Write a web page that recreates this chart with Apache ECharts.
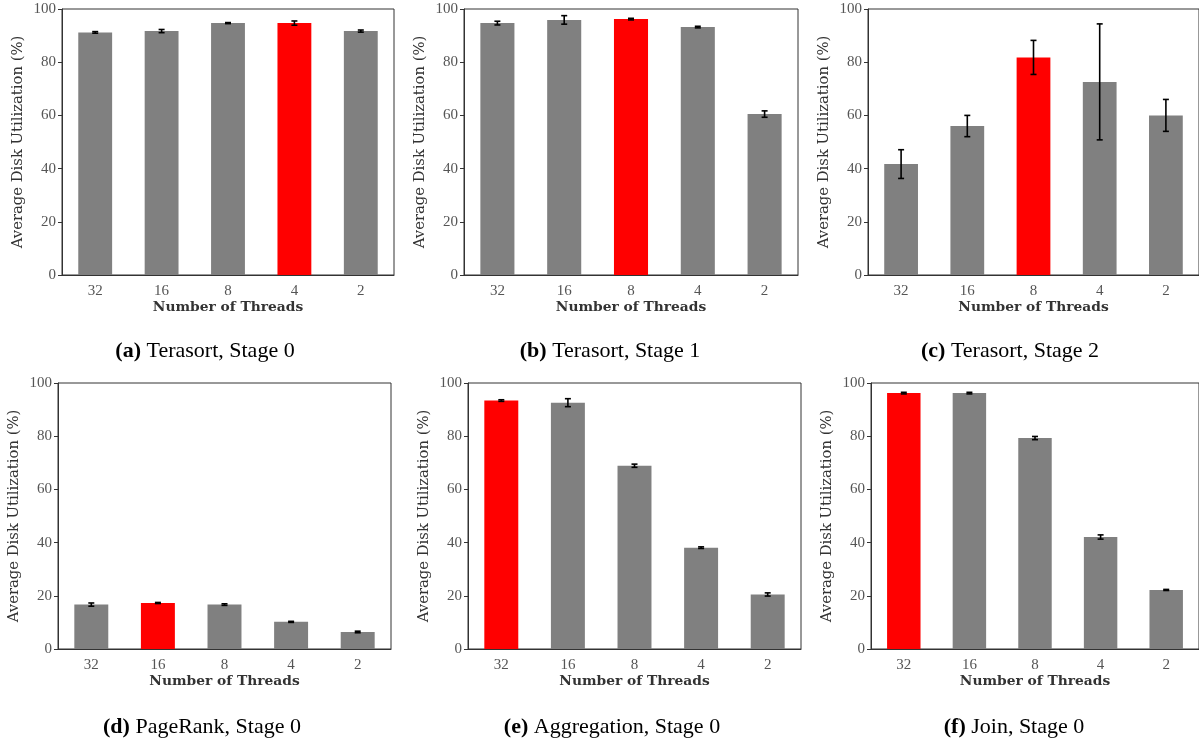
<!DOCTYPE html>
<html>
<head>
<meta charset="utf-8">
<script src="https://cdn.jsdelivr.net/npm/echarts@6/dist/echarts.min.js"></script>
<style>
html,body{margin:0;padding:0;background:#fff;}
#c{width:1199px;height:742px;}
</style>
</head>
<body>
<div id="c"></div>
<script>
// ---- data ----
const threads = ['32', '16', '8', '4', '2'];
const yTicks = [0, 20, 40, 60, 80, 100];

const terasort0 = [91.2, 91.7, 94.7, 94.7, 91.7];
const terasort0Err = [0.3, 0.6, 0.2, 0.8, 0.4];
const terasort0Best = 3;

const terasort1 = [94.7, 95.9, 96.2, 93.2, 60.5];
const terasort1Err = [0.7, 1.6, 0.3, 0.3, 1.2];
const terasort1Best = 2;

const terasort2 = [41.7, 56.0, 81.8, 72.6, 60.0];
const terasort2Err = [5.4, 4.0, 6.4, 21.8, 6.0];
const terasort2Best = 2;

const pagerank0 = [16.7, 17.3, 16.7, 10.2, 6.4];
const pagerank0Err = [0.6, 0.2, 0.3, 0.2, 0.3];
const pagerank0Best = 1;

const aggregation0 = [93.4, 92.6, 68.9, 38.1, 20.5];
const aggregation0Err = [0.3, 1.5, 0.6, 0.3, 0.6];
const aggregation0Best = 0;

const join0 = [96.2, 96.2, 79.3, 42.1, 22.2];
const join0Err = [0.3, 0.3, 0.6, 0.8, 0.2];
const join0Best = 0;

const captionTags = ['(a)', '(b)', '(c)', '(d)', '(e)', '(f)'];
const captionTexts = ['Terasort, Stage 0', 'Terasort, Stage 1', 'Terasort, Stage 2',
                      'PageRank, Stage 0', 'Aggregation, Stage 0', 'Join, Stage 0'];
const xTitle = 'Number of Threads';
const yTitle = 'Average Disk Utilization (%)';

// ---- layout ----
const panels = [
  {vals: terasort0, err: terasort0Err, best: terasort0Best, left: 62, top: 9, width: 332, cap: [205, 351]},
  {vals: terasort1, err: terasort1Err, best: terasort1Best, left: 464, top: 9, width: 334, cap: [610, 351]},
  {vals: terasort2, err: terasort2Err, best: terasort2Best, left: 868, top: 9, width: 335, cap: [1010, 351]},
  {vals: pagerank0, err: pagerank0Err, best: pagerank0Best, left: 58, top: 383, width: 333, cap: [202, 727]},
  {vals: aggregation0, err: aggregation0Err, best: aggregation0Best, left: 468, top: 383, width: 333, cap: [612, 727]},
  {vals: join0, err: join0Err, best: join0Best, left: 871, top: 383, width: 334, cap: [1014, 727]}
];
const H = 266;
const SERIF = '"Liberation Serif", "DejaVu Serif", serif';
const WIDE = '"DejaVu Serif", "Liberation Serif", serif';

const grid = [], xAxis = [], yAxis = [], series = [], graphic = [];
panels.forEach((p, i) => {
  grid.push({left: p.left, top: p.top, width: p.width, height: H, show: true,
             borderColor: '#333', borderWidth: 1, backgroundColor: 'transparent', containLabel: false});
  xAxis.push({
    type: 'category', gridIndex: i, data: threads,
    axisLine: {lineStyle: {color: '#333', width: 1}},
    axisTick: {alignWithLabel: true, length: 4, lineStyle: {color: '#333'}},
    axisLabel: {color: '#555', fontFamily: SERIF, fontSize: 15, margin: 9},
    name: xTitle, nameLocation: 'middle', nameGap: 25,
    nameTextStyle: {color: '#333', fontFamily: WIDE, fontSize: 13.8, fontWeight: 'bold'}
  });
  yAxis.push({
    type: 'value', gridIndex: i, min: 0, max: 100, interval: 20,
    splitLine: {show: false},
    axisLine: {show: true, lineStyle: {color: '#333', width: 1}},
    axisTick: {show: true, length: 4, lineStyle: {color: '#333'}},
    axisLabel: {color: '#555', fontFamily: SERIF, fontSize: 15, margin: 6,
                formatter: v => yTicks.includes(v) ? String(v) : ''},
    name: yTitle, nameLocation: 'middle', nameGap: 36,
    nameTextStyle: {color: '#333', fontFamily: WIDE, fontSize: 14.8}
  });
  series.push({
    type: 'bar', xAxisIndex: i, yAxisIndex: i, barWidth: '51%',
    data: p.vals.map((v, k) => ({value: v, itemStyle: {color: k === p.best ? '#ff0000' : '#808080'}})),
    silent: true, animation: false
  });
  series.push({
    type: 'custom', xAxisIndex: i, yAxisIndex: i, silent: true, animation: false, z: 10,
    data: p.vals.map((v, k) => [k, v - p.err[k], v + p.err[k]]),
    renderItem: function (params, api) {
      const x = api.value(0);
      const lo = api.coord([x, api.value(1)]);
      const hi = api.coord([x, api.value(2)]);
      const w = 3;
      const st = {stroke: '#000', lineWidth: 1.6};
      return {type: 'group', children: [
        {type: 'line', shape: {x1: lo[0], y1: lo[1], x2: hi[0], y2: hi[1]}, style: st},
        {type: 'line', shape: {x1: lo[0] - w, y1: lo[1], x2: lo[0] + w, y2: lo[1]}, style: st},
        {type: 'line', shape: {x1: hi[0] - w, y1: hi[1], x2: hi[0] + w, y2: hi[1]}, style: st}
      ]};
    }
  });
  graphic.push({
    type: 'text', x: p.cap[0], y: p.cap[1], silent: true,
    style: {
      text: '{b|' + captionTags[i] + '} ' + captionTexts[i],
      x: 0, y: 0, align: 'center', verticalAlign: 'middle',
      fontFamily: SERIF, fontSize: 22, fill: '#000',
      rich: {b: {fontFamily: SERIF, fontSize: 22, fontWeight: 'bold', fill: '#000'}}
    }
  });
});

const chart = echarts.init(document.getElementById('c'), null, {renderer: 'canvas'});
chart.setOption({animation: false, grid, xAxis, yAxis, series, graphic});
</script>
</body>
</html>
